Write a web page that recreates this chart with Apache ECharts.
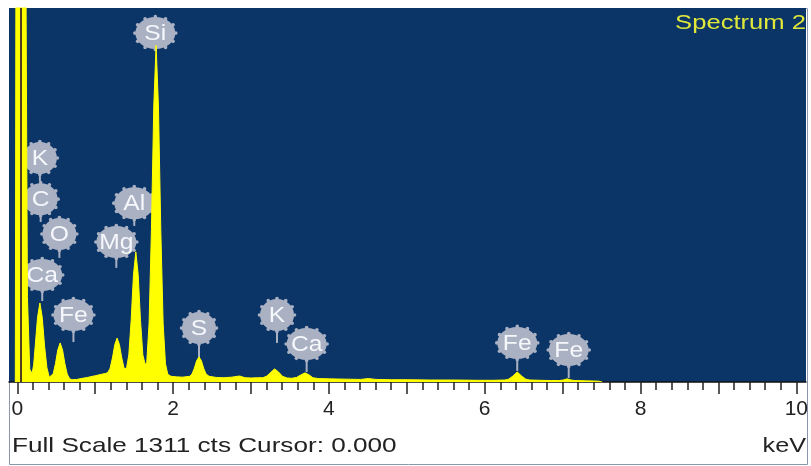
<!DOCTYPE html>
<html>
<head>
<meta charset="utf-8">
<script src="https://cdn.jsdelivr.net/npm/echarts@6/dist/echarts.min.js"></script>
<style>html,body{margin:0;padding:0;background:#fff}#c{width:811px;height:466px}</style>
</head>
<body>
<div id="c"></div>
<script>
// Spectrum: energy (keV) and counts
const energies = [-0.025,-0.017,0.11,0.13,0.16,0.19,
  0.21,0.23,0.26,0.29,0.32,0.35,0.38,0.41,
  0.43,0.46,0.49,0.52,0.55,0.58,0.61,0.64,0.67,0.70,0.76,0.82,0.90,1.00,1.08,1.13,
  1.16,1.19,1.22,1.25,1.28,1.31,1.34,1.37,
  1.40,1.43,1.46,1.49,1.52,1.55,1.58,1.61,1.64,
  1.66,1.69,1.72,1.75,1.78,1.81,1.84,1.87,1.90,1.93,1.97,2.04,2.12,
  2.21,2.24,2.27,2.30,2.33,2.36,2.39,2.42,2.46,2.55,2.65,2.75,2.85,2.92,3.00,3.08,
  3.15,3.20,3.25,3.30,3.35,3.40,3.46,3.52,
  3.58,3.63,3.69,3.74,3.79,3.86,4.0,4.2,4.4,4.5,4.6,4.8,5.0,5.3,5.6,5.9,6.1,6.25,
  6.30,6.35,6.41,6.47,6.52,6.57,6.7,6.85,6.95,7.0,7.05,7.10,7.15,7.3,7.45,7.5];
const counts = [0,1500,1500,300,45,30,
  60,126,227,277,227,126,50,17,
  12,28,65,113,137,113,65,28,12,8,9,12,16,22,27,30,
  33,48,84,131,154,131,84,48,
  47,95,216,377,456,377,216,95,61,
  69,206,534,967,1180,967,534,206,64,27,20,18,17,
  20,28,48,75,88,75,48,28,20,16,15,17,21,15,14,15,
  15,21,34,46,35,20,14,13,
  16,24,32,25,15,12,11,10,9,12,9,8,8,7,7,6,6,7,
  10,20,35,20,10,7,6,5,5,7,11,7,5,4,3,0];

// Element labels: name, energy (keV), label centre (counts), stem end (counts)
const labelNames  = ['Si','K','C','O','Ca','Fe','Al','Mg','S','K','Ca','Fe','Fe'];
const labelEnergy = [1.77,0.29,0.30,0.54,0.32,0.72,1.50,1.27,2.33,3.33,3.71,6.41,7.07];
const labelY      = [1223,785,641,519,375,235,627,491,189,235,133,137,112];
const stemY       = [1223,704,561,435,284,140,547,400,84,137,35,39,14];

const fullScale = 1311;
const cursorKeV = 0.05;

const spectrum = energies.map((e, i) => [e, counts[i]]);
const labels = labelEnergy.map((e, i) => [e, labelY[i], stemY[i]]);

const chart = echarts.init(document.getElementById('c'));
const gray = '#a9b1c3';
const FONT = '"Liberation Sans", Arial, sans-serif';

function renderLabel(params, api) {
  const name = labelNames[params.dataIndex];
  const c = api.coord([api.value(0), api.value(1)]);
  const s = api.coord([api.value(0), api.value(2)]);
  const rx = name.length > 1 ? 21 : 18, ry = 17;
  const ch = [];
  if (s[1] > c[1] + ry - 2) {
    ch.push({type:'line', shape:{x1:c[0], y1:c[1]+ry-3, x2:c[0], y2:s[1]}, style:{stroke:gray, lineWidth:2}});
  }
  for (let k = 0; k < 12; k++) {
    const a = -Math.PI/2 + k*Math.PI/6;
    ch.push({type:'circle', shape:{cx:c[0]+(rx-0.5)*Math.cos(a), cy:c[1]+(ry-0.5)*Math.sin(a), r:1.8}, style:{fill:gray}});
  }
  ch.push({type:'ellipse', shape:{cx:c[0], cy:c[1], rx:rx-1, ry:ry-1}, style:{fill:gray}});
  ch.push({type:'text', x:c[0], y:c[1]+1, scaleX:1.12, style:{text:name, fill:'#f5f7fb', font:'22px ' + FONT, align:'center', verticalAlign:'middle'}});
  return {type:'group', children: ch};
}

chart.setOption({
  animation: false,
  grid: [
    {left: 9, right: 5, top: 8, bottom: 84, show: true, backgroundColor: '#0b3467', borderWidth: 0},
    {left: 17.3, right: 13.7, top: 8, bottom: 84, show: false}
  ],
  xAxis: [
    {type:'value', gridIndex:0, min:-0.106, max:10.112,
     axisLine:{show:true, onZero:false, lineStyle:{color:'#111', width:1.5}},
     axisTick:{show:false}, axisLabel:{show:false}, splitLine:{show:false}},
    {type:'value', gridIndex:1, min:0, max:10, interval:1,
     axisLine:{show:false},
     axisTick:{show:true, length:12, lineStyle:{color:'#222', width:1.5}},
     minorTick:{show:true, splitNumber:5, length:8, lineStyle:{color:'#222', width:1.5}},
     axisLabel:{show:true, margin:17, fontSize:21, fontFamily:FONT, color:'#222',
       formatter: v => (Math.round(v) % 2 === 0 ? String(Math.round(v)) : '')},
     splitLine:{show:false}}
  ],
  yAxis: [
    {type:'value', gridIndex:0, min:0, max:fullScale, show:false},
    {type:'value', gridIndex:1, min:0, max:1, show:false}
  ],
  series: [
    {type:'line', xAxisIndex:0, yAxisIndex:0, data: spectrum, showSymbol:false, clip:true,
     lineStyle:{color:'#ffff00', width:1}, areaStyle:{color:'#ffff00', opacity:1},
     markLine:{silent:true, symbol:['none','none'], label:{show:false},
       lineStyle:{color:'#4e421c', width:2, type:'solid'}, data:[{xAxis: cursorKeV}]}},
    {type:'custom', xAxisIndex:0, yAxisIndex:0, data: labels, renderItem: renderLabel, clip:false}
  ],
  graphic: [
    {type:'rect', shape:{x:9.5, y:8.5, width:798, height:456}, style:{fill:'none', stroke:'#8a96aa', lineWidth:1}, z:-10},
    {type:'text', x:806, y:23, scaleX:1.28, style:{text:'Spectrum 2', fill:'#dfe83a', font:'20px ' + FONT, align:'right', verticalAlign:'middle'}, z:10},
    {type:'text', x:12, y:446, scaleX:1.245, style:{text:'Full Scale ' + fullScale + ' cts Cursor: 0.000', fill:'#222', font:'21px ' + FONT, align:'left', verticalAlign:'middle'}},
    {type:'text', x:806, y:446, scaleX:1.2, style:{text:'keV', fill:'#222', font:'21px ' + FONT, align:'right', verticalAlign:'middle'}}
  ]
});
</script>
</body>
</html>
